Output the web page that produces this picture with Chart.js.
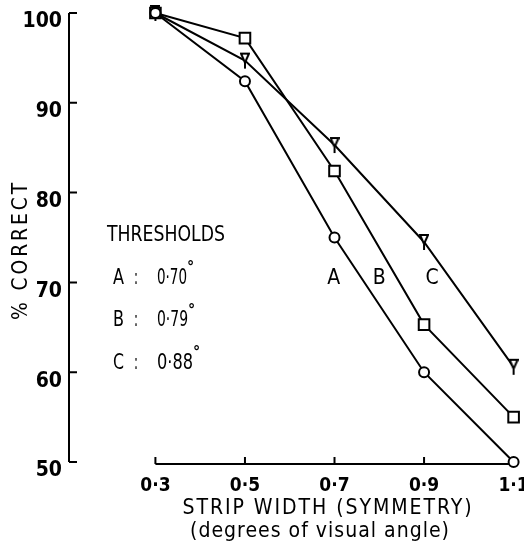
<!DOCTYPE html>
<html>
<head>
<meta charset="utf-8">
<script src="https://cdn.jsdelivr.net/npm/chart.js@4.4.1/dist/chart.umd.min.js"></script>
<style>
html, body { margin: 0; padding: 0; background: #fff; }
#wrap { width: 524px; height: 547px; }
</style>
</head>
<body>
<div id="wrap"><canvas id="chart"></canvas></div>
<script>
// data
const stripWidth = [0.3, 0.5, 0.7, 0.9, 1.1];
const seriesA = [100, 92.4, 75, 60, 50];     // circles
const seriesB = [100, 97.2, 82.4, 65.3, 55]; // squares
const seriesC = [100, 94.7, 85.3, 74.5, 60.6]; // triangles
const xTicks = [0.3, 0.5, 0.7, 0.9, 1.1];
const yTicks = [50, 60, 70, 80, 90, 100];
const thresholds = [['A', '0·70'], ['B', '0·79'], ['C', '0·88']];
const curveNames = ['A', 'B', 'C'];
const curveNameX = [0.698, 0.8, 0.918];
const curveNameY = 70.4;

const FONT = '"DejaVu Sans Condensed", "Liberation Sans Narrow", "DejaVu Sans", sans-serif';

// little inverted triangle with a stem, like the original marker
const triMark = document.createElement('canvas');
triMark.width = 10; triMark.height = 18;
(() => {
    const c = triMark.getContext('2d');
    c.lineWidth = 2;
    c.strokeStyle = '#000';
    c.fillStyle = '#fff';
    c.beginPath();
    c.moveTo(1, 2); c.lineTo(9, 2); c.lineTo(5, 11); c.closePath();
    c.fill(); c.stroke();
    c.beginPath();
    c.moveTo(5, 11); c.lineTo(5, 17);
    c.stroke();
})();

const toPts = (ys) => stripWidth.map((x, i) => ({x: x, y: ys[i]}));

// draw text squeezed/stretched to a given width
const fitText = (ctx, text, x, y, size, width, align) => {
    ctx.font = size + 'px ' + FONT;
    const w = ctx.measureText(text).width;
    ctx.save();
    ctx.translate(x, y);
    ctx.scale(width / w, 1);
    ctx.textAlign = align;
    ctx.fillText(text, 0, 0);
    ctx.restore();
};

const axesPlugin = {
    id: 'axesPlugin',
    beforeDatasetsDraw(chart) {
        const ctx = chart.ctx;
        const xs = chart.scales.x, ys = chart.scales.y;
        const left = chart.chartArea.left;
        ctx.save();
        ctx.strokeStyle = '#000';
        ctx.lineWidth = 2;
        // y axis with inward ticks
        ctx.beginPath();
        ctx.moveTo(left, ys.getPixelForValue(100));
        ctx.lineTo(left, ys.getPixelForValue(50));
        yTicks.forEach(v => {
            const p = ys.getPixelForValue(v);
            ctx.moveTo(left, p);
            ctx.lineTo(left + 8, p);
        });
        ctx.stroke();
        // x axis only over the data range, ticks upward
        const yb = ys.getPixelForValue(50) + 2;
        ctx.beginPath();
        ctx.moveTo(xs.getPixelForValue(0.3), yb);
        ctx.lineTo(xs.getPixelForValue(1.1), yb);
        xTicks.forEach(v => {
            const p = xs.getPixelForValue(v);
            ctx.moveTo(p, yb);
            ctx.lineTo(p, yb - 7);
        });
        ctx.stroke();
        ctx.restore();
    },
    afterDraw(chart) {
        const ctx = chart.ctx;
        const xs = chart.scales.x, ys = chart.scales.y;
        ctx.save();
        ctx.fillStyle = '#000';
        ctx.textBaseline = 'middle';
        // y title
        ctx.save();
        ctx.translate(21, 250);
        ctx.rotate(-Math.PI / 2);
        ctx.letterSpacing = '3px';
        fitText(ctx, '% CORRECT', 0, 0, 22, 140, 'center');
        ctx.restore();
        // x title, two lines
        ctx.letterSpacing = '2px';
        fitText(ctx, 'STRIP WIDTH (SYMMETRY)', 328, 508, 22, 291, 'center');
        ctx.letterSpacing = '1px';
        fitText(ctx, '(degrees of visual angle)', 320, 532, 21, 260, 'center');
        ctx.letterSpacing = '0px';
        // thresholds block
        fitText(ctx, 'THRESHOLDS', 107, 235, 22, 118, 'left');
        const valW = [30, 31, 36];
        thresholds.forEach((t, i) => {
            const yy = 278 + i * 42.5;
            fitText(ctx, t[0], 113, yy, 22, 11, 'left');
            fitText(ctx, ':', 134, yy, 22, 4, 'left');
            fitText(ctx, t[1], 157, yy, 22, valW[i], 'left');
            ctx.font = 'bold 16px ' + FONT;
            ctx.textAlign = 'left';
            ctx.fillText('°', 157 + valW[i], yy - 10);
        });
        // curve names inside the plot
        ctx.textAlign = 'center';
        ctx.font = '21px ' + FONT;
        curveNames.forEach((n, i) => {
            ctx.fillText(n, xs.getPixelForValue(curveNameX[i]), ys.getPixelForValue(curveNameY));
        });
        ctx.restore();
    }
};

const baseSet = {
    borderColor: '#000',
    borderWidth: 2,
    pointBackgroundColor: '#fff',
    pointBorderColor: '#000',
    pointBorderWidth: 2,
    showLine: true,
    tension: 0,
    clip: false
};

new Chart(document.getElementById('chart'), {
    type: 'scatter',
    data: {
        datasets: [
            Object.assign({}, baseSet, {label: 'A', data: toPts(seriesA), pointStyle: 'circle', pointRadius: 5}),
            Object.assign({}, baseSet, {label: 'B', data: toPts(seriesB), pointStyle: 'rect', pointRadius: 7.5}),
            Object.assign({}, baseSet, {label: 'C', data: toPts(seriesC), pointStyle: triMark, pointRadius: 6})
        ]
    },
    options: {
        responsive: true,
        maintainAspectRatio: false,
        animation: false,
        events: [],
        layout: {padding: {top: 13, right: 6, left: 0, bottom: 0}},
        plugins: {legend: {display: false}, tooltip: {enabled: false}},
        scales: {
            x: {
                type: 'linear',
                min: 0.107,
                max: 1.102,
                grid: {display: false, drawTicks: false},
                border: {display: false},
                afterBuildTicks: (s) => { s.ticks = xTicks.map(v => ({value: v})); },
                afterFit: (s) => { s.height = 85; s.paddingLeft = 0; s.paddingRight = 0; },
                ticks: {
                    color: '#000',
                    padding: 13,
                    maxRotation: 0,
                    font: {family: FONT, size: 19, weight: 'bold'},
                    callback: (v) => v.toFixed(1).replace('.', '·')
                }
            },
            y: {
                min: 50,
                max: 100,
                grid: {display: false, drawTicks: false},
                border: {display: false},
                afterBuildTicks: (s) => { s.ticks = yTicks.map(v => ({value: v})); },
                afterFit: (s) => { s.width = 69; s.paddingTop = 0; s.paddingBottom = 0; },
                ticks: {
                    color: '#000',
                    padding: 7,
                    labelOffset: 9,
                    font: {family: FONT, size: 21, weight: 'bold'}
                }
            }
        }
    },
    plugins: [axesPlugin]
});
</script>
</body>
</html>
